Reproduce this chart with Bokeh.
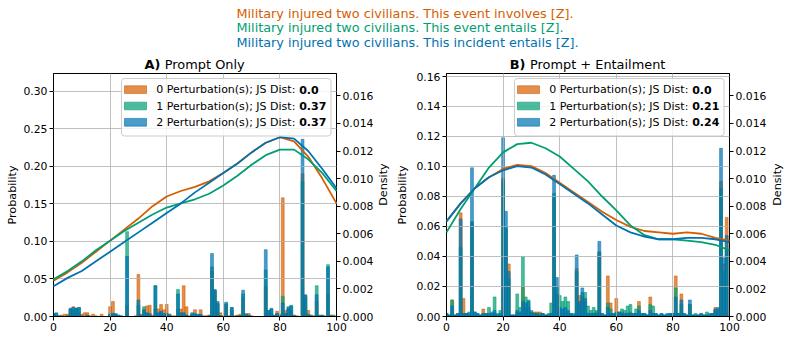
import math
from bokeh.plotting import figure
from bokeh.models import Range1d, LinearAxis, FixedTicker, NumeralTickFormatter, Label, BoxAnnotation
from bokeh.layouts import column, row
from bokeh.embed import file_html
from bokeh.resources import INLINE

# ---------------- data ----------------
BINS = list(range(100))

# Panel A (Prompt Only) probabilities per value 0..99
A_P0 = [0.002, 0.001, 0.001, 0.002, 0.003, 0.003, 0.009, 0.013, 0.010, 0.005,
        0.003, 0.005, 0.005, 0.001, 0.003, 0.001, 0.000, 0.003, 0.000, 0.000,
        0.013, 0.020, 0.002, 0.000, 0.000, 0.000, 0.015, 0.000, 0.000, 0.001,
        0.056, 0.003, 0.010, 0.014, 0.015, 0.002, 0.010, 0.010, 0.016, 0.009,
        0.016, 0.003, 0.001, 0.001, 0.010, 0.010, 0.041, 0.013, 0.001, 0.003,
        0.009, 0.002, 0.009, 0.001, 0.001, 0.002, 0.060, 0.035, 0.016, 0.005,
        0.001, 0.016, 0.001, 0.008, 0.001, 0.002, 0.003, 0.025, 0.004, 0.004,
        0.001, 0.000, 0.000, 0.000, 0.000, 0.040, 0.003, 0.004, 0.002, 0.007,
        0.003, 0.158, 0.008, 0.010, 0.008, 0.002, 0.001, 0.000, 0.190, 0.028,
        0.008, 0.002, 0.001, 0.020, 0.002, 0.000, 0.001, 0.030, 0.002, 0.002]
A_P1 = [0.004, 0.005, 0.000, 0.000, 0.000, 0.000, 0.010, 0.008, 0.011, 0.012,
        0.000, 0.000, 0.001, 0.000, 0.000, 0.000, 0.000, 0.000, 0.000, 0.000,
        0.003, 0.004, 0.004, 0.001, 0.000, 0.000, 0.113, 0.000, 0.000, 0.000,
        0.015, 0.001, 0.013, 0.004, 0.002, 0.000, 0.041, 0.003, 0.006, 0.002,
        0.002, 0.001, 0.000, 0.000, 0.036, 0.003, 0.004, 0.001, 0.000, 0.003,
        0.002, 0.002, 0.002, 0.000, 0.000, 0.001, 0.066, 0.034, 0.018, 0.001,
        0.000, 0.017, 0.000, 0.012, 0.000, 0.001, 0.001, 0.030, 0.002, 0.001,
        0.000, 0.000, 0.000, 0.000, 0.000, 0.062, 0.008, 0.011, 0.001, 0.003,
        0.001, 0.027, 0.003, 0.011, 0.015, 0.001, 0.000, 0.000, 0.180, 0.026,
        0.002, 0.001, 0.000, 0.041, 0.001, 0.001, 0.000, 0.069, 0.001, 0.001]
A_P2 = [0.003, 0.004, 0.001, 0.000, 0.000, 0.001, 0.011, 0.012, 0.011, 0.012,
        0.001, 0.000, 0.002, 0.000, 0.000, 0.000, 0.000, 0.000, 0.000, 0.000,
        0.003, 0.004, 0.003, 0.002, 0.001, 0.000, 0.080, 0.000, 0.000, 0.000,
        0.022, 0.002, 0.008, 0.005, 0.004, 0.000, 0.041, 0.005, 0.007, 0.004,
        0.004, 0.003, 0.000, 0.000, 0.030, 0.005, 0.005, 0.002, 0.000, 0.005,
        0.004, 0.003, 0.003, 0.000, 0.000, 0.001, 0.084, 0.036, 0.020, 0.001,
        0.000, 0.019, 0.000, 0.012, 0.000, 0.000, 0.001, 0.035, 0.003, 0.002,
        0.000, 0.000, 0.000, 0.000, 0.000, 0.089, 0.008, 0.010, 0.001, 0.004,
        0.001, 0.018, 0.004, 0.013, 0.014, 0.001, 0.000, 0.000, 0.236, 0.029,
        0.003, 0.001, 0.000, 0.029, 0.001, 0.002, 0.000, 0.066, 0.001, 0.000]

# Panel B (Prompt + Entailment)
B_P0 = [0.002, 0.001, 0.011, 0.001, 0.002, 0.069, 0.012, 0.002, 0.001, 0.063,
        0.002, 0.001, 0.001, 0.005, 0.001, 0.001, 0.001, 0.002, 0.001, 0.001,
        0.092, 0.058, 0.035, 0.001, 0.001, 0.003, 0.002, 0.020, 0.006, 0.006,
        0.002, 0.003, 0.003, 0.003, 0.002, 0.001, 0.001, 0.002, 0.080, 0.015,
        0.003, 0.002, 0.003, 0.002, 0.001, 0.001, 0.032, 0.014, 0.013, 0.010,
        0.002, 0.001, 0.002, 0.003, 0.043, 0.001, 0.001, 0.027, 0.009, 0.001,
        0.012, 0.003, 0.003, 0.001, 0.002, 0.003, 0.001, 0.002, 0.010, 0.001,
        0.001, 0.001, 0.013, 0.002, 0.001, 0.001, 0.001, 0.001, 0.001, 0.001,
        0.002, 0.027, 0.002, 0.015, 0.001, 0.001, 0.008, 0.001, 0.001, 0.001,
        0.001, 0.001, 0.001, 0.001, 0.002, 0.006, 0.005, 0.090, 0.035, 0.066]
B_P1 = [0.002, 0.001, 0.011, 0.001, 0.001, 0.046, 0.002, 0.002, 0.003, 0.063,
        0.003, 0.002, 0.001, 0.002, 0.002, 0.006, 0.003, 0.013, 0.002, 0.004,
        0.090, 0.060, 0.025, 0.001, 0.001, 0.015, 0.006, 0.040, 0.013, 0.011,
        0.004, 0.002, 0.002, 0.002, 0.002, 0.001, 0.002, 0.009, 0.082, 0.020,
        0.014, 0.010, 0.013, 0.010, 0.002, 0.002, 0.030, 0.008, 0.016, 0.016,
        0.007, 0.004, 0.006, 0.004, 0.043, 0.002, 0.001, 0.009, 0.005, 0.002,
        0.003, 0.002, 0.005, 0.004, 0.007, 0.008, 0.002, 0.005, 0.007, 0.002,
        0.002, 0.001, 0.008, 0.007, 0.002, 0.001, 0.002, 0.001, 0.001, 0.002,
        0.002, 0.019, 0.002, 0.008, 0.002, 0.001, 0.008, 0.001, 0.002, 0.001,
        0.002, 0.001, 0.003, 0.001, 0.002, 0.004, 0.004, 0.085, 0.030, 0.045]
B_P2 = [0.002, 0.001, 0.007, 0.001, 0.002, 0.065, 0.002, 0.002, 0.002, 0.099,
        0.003, 0.002, 0.001, 0.002, 0.002, 0.002, 0.002, 0.004, 0.001, 0.002,
        0.119, 0.070, 0.030, 0.001, 0.001, 0.004, 0.003, 0.010, 0.009, 0.010,
        0.003, 0.002, 0.002, 0.001, 0.002, 0.001, 0.001, 0.002, 0.094, 0.026,
        0.006, 0.005, 0.006, 0.004, 0.002, 0.001, 0.041, 0.010, 0.019, 0.012,
        0.002, 0.002, 0.002, 0.002, 0.050, 0.002, 0.001, 0.006, 0.002, 0.002,
        0.002, 0.003, 0.002, 0.002, 0.002, 0.002, 0.002, 0.002, 0.004, 0.002,
        0.002, 0.001, 0.004, 0.002, 0.002, 0.001, 0.002, 0.001, 0.002, 0.002,
        0.002, 0.013, 0.002, 0.011, 0.002, 0.001, 0.011, 0.001, 0.001, 0.001,
        0.002, 0.001, 0.001, 0.002, 0.002, 0.005, 0.006, 0.112, 0.039, 0.054]

# density curves (read at x = 0, 5, ..., 100)
KDE_X = list(range(0, 101, 5))
A_K0 = [0.0026, 0.0032, 0.0039, 0.0047, 0.0055, 0.0063, 0.0071, 0.0080, 0.0087, 0.0091, 0.0094,
        0.0098, 0.0104, 0.0111, 0.0119, 0.0126, 0.0130, 0.0127, 0.0116, 0.0100, 0.0082]
A_K1 = [0.0027, 0.0033, 0.0040, 0.0048, 0.0055, 0.0062, 0.0068, 0.0074, 0.0079, 0.0082, 0.0085,
        0.0089, 0.0095, 0.0102, 0.0110, 0.0117, 0.0121, 0.0121, 0.0114, 0.0104, 0.0091]
A_K2 = [0.0022, 0.0028, 0.0033, 0.0040, 0.0047, 0.0054, 0.0061, 0.0068, 0.0075, 0.0082, 0.0090,
        0.0097, 0.0104, 0.0111, 0.0119, 0.0126, 0.0130, 0.0129, 0.0120, 0.0107, 0.0093]
B_K0 = [0.0069, 0.0082, 0.0093, 0.0101, 0.0107, 0.0110, 0.0109, 0.0104, 0.0097, 0.0090, 0.0083,
        0.0076, 0.0070, 0.0065, 0.0062, 0.0061, 0.0060, 0.0061, 0.0060, 0.0057, 0.0055]
B_K1 = [0.0061, 0.0078, 0.0093, 0.0108, 0.0119, 0.0125, 0.0126, 0.0122, 0.0116, 0.0107, 0.0098,
        0.0087, 0.0077, 0.0066, 0.0059, 0.0056, 0.0056, 0.0055, 0.0054, 0.0052, 0.0048]
B_K2 = [0.0069, 0.0082, 0.0093, 0.0101, 0.0106, 0.0109, 0.0108, 0.0103, 0.0096, 0.0089, 0.0082,
        0.0074, 0.0066, 0.0061, 0.0058, 0.0056, 0.0056, 0.0057, 0.0057, 0.0056, 0.0054]

SUPTITLE = ["Military injured two civilians. This event involves [Z].",
            "Military injured two civilians. This event entails [Z].",
            "Military injured two civilians. This incident entails [Z]."]
SERIES_NAMES = ["0 Perturbation(s); JS Dist: ",
                "1 Perturbation(s); JS Dist: ",
                "2 Perturbation(s); JS Dist: "]
A_JS = ["0.0", "0.37", "0.37"]
B_JS = ["0.0", "0.21", "0.24"]
XTICKS = [0, 20, 40, 60, 80, 100]
A_YTICKS = [0.0, 0.05, 0.10, 0.15, 0.20, 0.25, 0.30]
B_YTICKS = [0.0, 0.02, 0.04, 0.06, 0.08, 0.10, 0.12, 0.14, 0.16]
DENS_TICKS = [0.0, 0.002, 0.004, 0.006, 0.008, 0.010, 0.012, 0.014, 0.016]
A_YMAX = 0.3236
B_YMAX = 0.1618
DENS_MAX = 0.01762

# ---------------- style ----------------
FONT = "DejaVu Sans"
COLORS = ["#D55E00", "#009E73", "#0072B2"]
FRAME_W, FRAME_H = 283.0, 243.0
HDR_H = 72
TOP_B, BOT_B = 1, 24
PH = 340 - HDR_H  # plot figure height


def panel(bars, kdes, ymax, yticks, js, width, bl, br, ylab_standoff):
    p = figure(width=width, height=PH, x_range=Range1d(0, 100), y_range=Range1d(0, ymax),
               output_backend="svg", toolbar_location=None, title=None,
               min_border_left=bl, min_border_right=br, min_border_top=TOP_B,
               min_border_bottom=BOT_B,
               background_fill_color="white", border_fill_color="white")
    p.outline_line_color = "black"
    p.outline_line_width = 1
    p.extra_y_ranges = {"dens": Range1d(0, DENS_MAX)}

    fx = lambda px: px * 100.0 / FRAME_W
    fy = lambda py: ymax - py * ymax / FRAME_H

    left = p.left[0]
    below = p.below[0]
    below.ticker = FixedTicker(ticks=XTICKS)
    left.ticker = FixedTicker(ticks=yticks)
    left.formatter = NumeralTickFormatter(format="0.00")
    left.axis_label = "Probability"
    left.axis_label_standoff = ylab_standoff
    right = LinearAxis(y_range_name="dens", ticker=FixedTicker(ticks=DENS_TICKS),
                       formatter=NumeralTickFormatter(format="0.000"))
    p.add_layout(right, "right")
    for ax in (below, left, right):
        ax.major_tick_out = 4
        ax.major_tick_in = 0
        ax.minor_tick_line_color = None
        ax.major_label_standoff = 2
        ax.major_label_text_font = FONT
        ax.major_label_text_font_size = "10.8px"
        ax.major_label_text_color = "black"
        ax.axis_line_color = "black"
        ax.major_tick_line_color = "black"
        ax.axis_label_text_font = FONT
        ax.axis_label_text_font_size = "11.2px"
        ax.axis_label_text_font_style = "normal"
        ax.axis_label_text_color = "black"

    for g in (p.xgrid[0], p.ygrid[0]):
        g.grid_line_color = "#b0b0b0"
        g.grid_line_width = 0.8
        g.level = "guide"

    for vals, c in zip(bars, COLORS):
        p.vbar(x=BINS, top=vals, width=1.0, fill_color=c, fill_alpha=0.7,
               line_color=c, line_alpha=0.9, line_width=0.6)

    for ys, c in zip(kdes, COLORS):
        r = p.line(KDE_X, ys, line_color=c, line_width=1.8, y_range_name="dens")
        r.level = "annotation"

    # legend
    p.add_layout(BoxAnnotation(left=fx(68), right=fx(277.5), top=fy(5), bottom=fy(62.5),
                               fill_color="white", fill_alpha=0.8, line_color="#cccccc",
                               line_alpha=1.0, line_width=1, border_radius=3))
    rows = [16.2, 32.5, 48.8]
    for ry, c, name, v in zip(rows, COLORS, SERIES_NAMES, js):
        p.add_layout(BoxAnnotation(left=fx(71), right=fx(93), top=fy(ry - 3.85), bottom=fy(ry + 3.85),
                                   fill_color=c, fill_alpha=0.7, line_color=c, line_alpha=1.0,
                                   line_width=0.6))
        p.add_layout(Label(x=fx(102.7), y=fy(ry), text=name, text_font=FONT,
                           text_font_size="11px", text_baseline="middle", text_color="black"))
        p.add_layout(Label(x=fx(102.7 + 143.0), y=fy(ry), text=v, text_font=FONT,
                           text_font_size="11px", text_font_style="bold",
                           text_baseline="middle", text_color="black"))
    return p


def side_label(width, cx, text):
    """A narrow strip holding the right-hand axis title, reading bottom to top."""
    s = figure(width=width, height=PH, x_range=Range1d(0, width), y_range=Range1d(PH, 0),
               output_backend="svg", toolbar_location=None, title=None,
               x_axis_location=None, y_axis_location=None, min_border=0,
               background_fill_color="white", border_fill_color="white")
    s.outline_line_color = None
    s.xgrid.visible = False
    s.ygrid.visible = False
    s.add_layout(Label(x=cx, y=TOP_B + FRAME_H / 2, text=text, angle=math.pi / 2,
                       text_font=FONT, text_font_size="11.2px", text_align="center",
                       text_baseline="middle", text_color="black"))
    return s


pA = panel([A_P0, A_P1, A_P2], [A_K0, A_K1, A_K2], A_YMAX, A_YTICKS, A_JS,
           width=376, bl=53, br=40, ylab_standoff=1)
dA = side_label(14, 7.0, "Density")
pB = panel([B_P0, B_P1, B_P2], [B_K0, B_K1, B_K2], B_YMAX, B_YTICKS, B_JS,
           width=379, bl=56, br=40, ylab_standoff=4)
dB = side_label(20, 7.5, "Density")

# header: suptitle + panel titles (page pixel coordinates)
hdr = figure(width=789, height=HDR_H, x_range=Range1d(0, 789), y_range=Range1d(HDR_H, 0),
             output_backend="svg", toolbar_location=None, title=None,
             x_axis_location=None, y_axis_location=None, min_border=0,
             background_fill_color="white", border_fill_color="white")
hdr.outline_line_color = None
hdr.xgrid.visible = False
hdr.ygrid.visible = False
for txt, c, by in zip(SUPTITLE, COLORS, [12.8, 27.3, 41.8]):
    hdr.add_layout(Label(x=236, y=by, text=txt, text_font=FONT, text_font_size="12.8px",
                         text_baseline="alphabetic", text_color=c))
for bx, bold, nx, normal in [(143.9, "A)", 164.3, "Prompt Only"),
                             (509.2, "B)", 529.5, "Prompt + Entailment")]:
    hdr.add_layout(Label(x=bx, y=64.0, text=bold, text_font=FONT, text_font_size="12.9px",
                         text_font_style="bold", text_baseline="alphabetic", text_color="black"))
    hdr.add_layout(Label(x=nx, y=64.0, text=normal, text_font=FONT, text_font_size="12.9px",
                         text_baseline="alphabetic", text_color="black"))

layout = column(hdr, row(pA, dA, pB, dB))
open("out.html", "w").write(file_html(layout, INLINE))
